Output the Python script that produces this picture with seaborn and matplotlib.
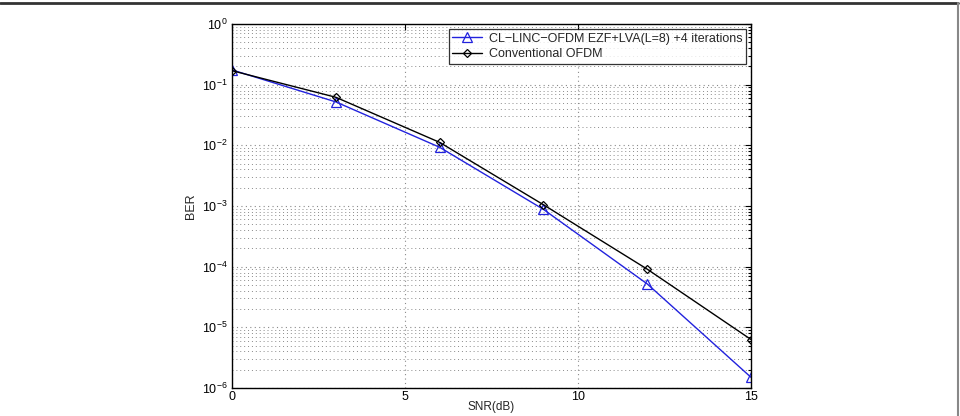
import numpy as np
import seaborn as sns
import matplotlib.pyplot as plt
from matplotlib.lines import Line2D
from matplotlib.ticker import LogLocator, NullFormatter, FixedLocator

# data
snr = [0, 3, 6, 9, 12, 15]
ber_linc = [0.175, 0.052, 0.0093, 0.00088, 0.000052, 0.0000015]
ber_ofdm = [0.170, 0.062, 0.0112, 0.00105, 0.000091, 0.0000063]
label_linc = "CL\u2212LINC\u2212OFDM EZF+LVA(L=8) +4 iterations"
label_ofdm = "Conventional OFDM"
x_ticks = [0, 5, 10, 15]


def main():
    sns.set_theme(style="white", context="paper")
    plt.rcParams['font.family'] = ['Liberation Sans', 'DejaVu Sans']
    plt.rcParams['mathtext.fontset'] = 'custom'
    plt.rcParams['mathtext.rm'] = 'Liberation Sans'
    plt.rcParams['mathtext.it'] = 'Liberation Sans'

    fig = plt.figure(figsize=(9.6, 4.16), dpi=100)
    ax = fig.add_axes([232 / 960, 1 - 388 / 416, 519 / 960, 364 / 416])

    sns.lineplot(x=snr, y=ber_linc, ax=ax, color='#2222dd', lw=1.0, marker='^',
                 markersize=7, markerfacecolor='none', markeredgecolor='#2222dd',
                 markeredgewidth=0.9, label=label_linc)
    sns.lineplot(x=snr, y=ber_ofdm, ax=ax, color='black', lw=1.0, marker='D',
                 markersize=4.5, markerfacecolor='none', markeredgecolor='black',
                 markeredgewidth=0.9, label=label_ofdm)

    ax.set_yscale('log')
    ax.set_xlim(0, 15)
    ax.set_ylim(1e-6, 1)
    ax.xaxis.set_major_locator(FixedLocator(x_ticks))
    ax.yaxis.set_major_locator(LogLocator(base=10, numticks=10))
    ax.yaxis.set_minor_locator(LogLocator(base=10, subs=np.arange(2, 10), numticks=100))
    ax.yaxis.set_minor_formatter(NullFormatter())

    ax.grid(True, which='major', color='#8a8a8a', linestyle=(0, (1, 3)), lw=0.8)
    ax.grid(True, which='minor', axis='y', color='#8a8a8a', linestyle=(0, (1, 3)), lw=0.7)

    ax.tick_params(which='both', direction='in', top=True, right=True,
                   labelsize=9, width=0.8, colors='black')
    ax.tick_params(which='major', length=4, pad=3)
    ax.tick_params(axis='x', which='major', pad=2)
    ax.tick_params(which='minor', length=2)
    for s in ax.spines.values():
        s.set_color('black')
        s.set_linewidth(1.0)

    ax.set_xlabel("SNR(dB)", fontsize=8.5, labelpad=-1)
    ax.set_ylabel("BER", fontsize=9, labelpad=4)

    leg = ax.legend(loc='upper right', fontsize=9, frameon=True, fancybox=False,
                    borderaxespad=0.4, handlelength=2.4, borderpad=0.3,
                    labelspacing=0.25, handletextpad=0.5)
    leg.get_frame().set_edgecolor('black')
    leg.get_frame().set_linewidth(0.9)

    # page frame
    fig.add_artist(Line2D([0, 958 / 960], [1 - 2.5 / 416] * 2, color='#333333', lw=2,
                          transform=fig.transFigure))
    fig.add_artist(Line2D([958 / 960] * 2, [0, 1 - 2.5 / 416], color='#888888', lw=1.5,
                          transform=fig.transFigure))

    fig.savefig("out.png", dpi=100)


if __name__ == "__main__":
    main()
